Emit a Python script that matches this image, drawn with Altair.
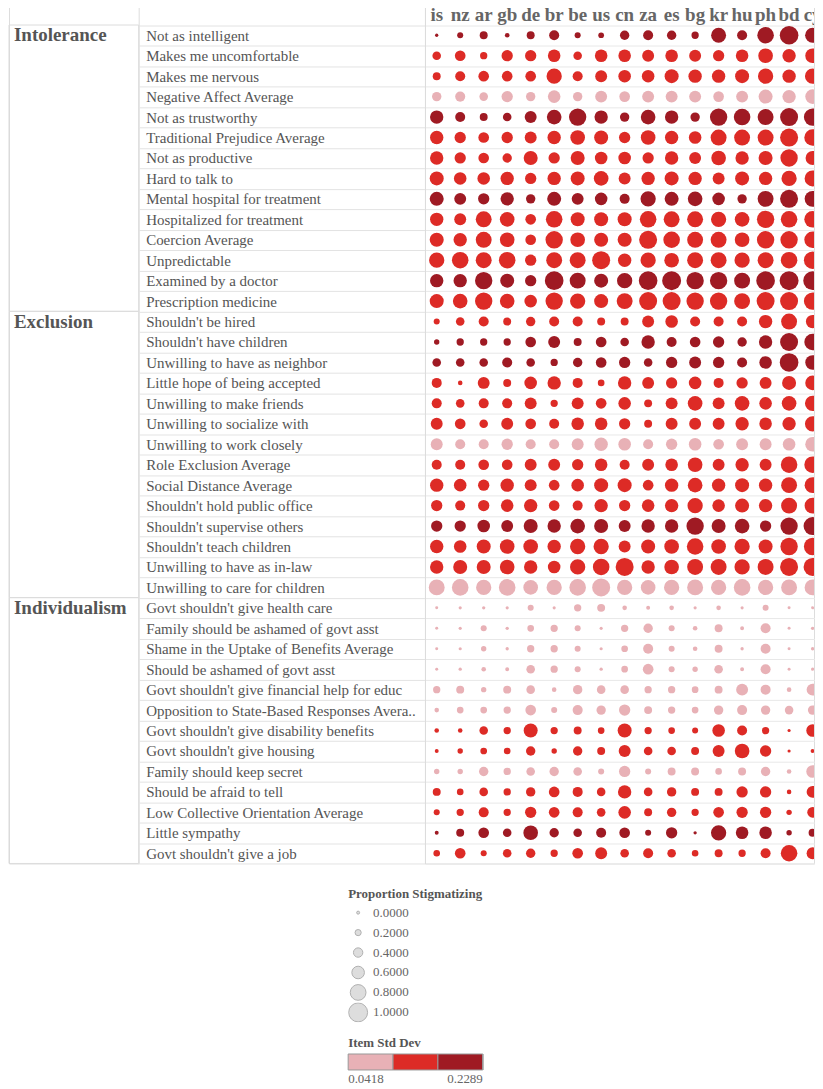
import altair as alt
import pandas as pd

SERIF = "Liberation Serif"

countries = ["is", "nz", "ar", "gb", "de", "br", "be", "us", "cn", "za",
             "es", "bg", "kr", "hu", "ph", "bd", "cy"]
categories = ["Intolerance", "Exclusion", "Individualism"]

intolerance_items = [
    "Not as intelligent", "Makes me uncomfortable", "Makes me nervous",
    "Negative Affect Average", "Not as trustworthy", "Traditional Prejudice Average",
    "Not as productive", "Hard to talk to", "Mental hospital for treatment",
    "Hospitalized for treatment", "Coercion Average", "Unpredictable",
    "Examined by a doctor", "Prescription medicine"]
intolerance_sd = [0.2289, 0.13, 0.12, 0.07, 0.19, 0.14, 0.13, 0.14, 0.20, 0.15,
                  0.14, 0.13, 0.19, 0.14]
intolerance_values = [
    [0.02, 0.19, 0.31, 0.10, 0.31, 0.44, 0.19, 0.17, 0.40, 0.44, 0.40, 0.27, 0.75, 0.44, 0.85, 0.98, 0.75],
    [0.35, 0.48, 0.27, 0.52, 0.52, 0.60, 0.35, 0.60, 0.60, 0.56, 0.60, 0.56, 0.52, 0.60, 0.73, 0.65, 0.73],
    [0.31, 0.44, 0.48, 0.48, 0.48, 0.77, 0.44, 0.56, 0.60, 0.60, 0.69, 0.65, 0.65, 0.69, 0.77, 0.65, 0.77],
    [0.40, 0.44, 0.35, 0.52, 0.40, 0.60, 0.40, 0.56, 0.48, 0.56, 0.56, 0.56, 0.48, 0.56, 0.69, 0.65, 0.73],
    [0.65, 0.44, 0.31, 0.35, 0.56, 0.73, 0.90, 0.65, 0.40, 0.73, 0.65, 0.40, 0.90, 0.85, 0.81, 0.94, 0.90],
    [0.65, 0.52, 0.48, 0.52, 0.56, 0.65, 0.73, 0.69, 0.52, 0.73, 0.65, 0.60, 0.81, 0.81, 0.81, 0.94, 0.85],
    [0.65, 0.52, 0.48, 0.40, 0.69, 0.52, 0.69, 0.60, 0.60, 0.52, 0.65, 0.56, 0.73, 0.65, 0.69, 0.90, 0.69],
    [0.69, 0.60, 0.60, 0.65, 0.52, 0.65, 0.69, 0.73, 0.56, 0.65, 0.69, 0.65, 0.56, 0.69, 0.65, 0.77, 0.81],
    [0.69, 0.56, 0.52, 0.65, 0.40, 0.69, 0.56, 0.60, 0.44, 0.77, 0.69, 0.73, 0.60, 0.40, 0.81, 0.94, 0.81],
    [0.65, 0.56, 0.81, 0.73, 0.48, 0.85, 0.69, 0.69, 0.69, 0.85, 0.81, 0.81, 0.77, 0.73, 0.90, 0.85, 0.85],
    [0.69, 0.65, 0.81, 0.73, 0.48, 0.90, 0.73, 0.69, 0.69, 0.94, 0.85, 0.81, 0.81, 0.73, 0.90, 0.90, 0.85],
    [0.77, 0.85, 0.81, 0.85, 0.52, 0.81, 0.81, 0.94, 0.65, 0.77, 0.73, 0.81, 0.81, 0.77, 0.81, 0.85, 0.90],
    [0.65, 0.65, 0.90, 0.69, 0.52, 0.98, 0.81, 0.69, 0.77, 0.98, 1.00, 0.90, 0.90, 0.81, 0.98, 1.00, 0.98],
    [0.69, 0.73, 0.90, 0.73, 0.60, 0.90, 0.77, 0.69, 0.81, 0.94, 0.94, 0.90, 0.90, 0.81, 0.94, 0.94, 0.90],
]

exclusion_items = [
    "Shouldn't be hired", "Shouldn't have children", "Unwilling to have as neighbor",
    "Little hope of being accepted", "Unwilling to make friends", "Unwilling to socialize with",
    "Unwilling to work closely", "Role Exclusion Average", "Social Distance Average",
    "Shouldn't hold public office", "Shouldn't supervise others", "Shouldn't teach children",
    "Unwilling to have as in-law", "Unwilling to care for children"]
exclusion_sd = [0.14, 0.19, 0.20, 0.15, 0.14, 0.13, 0.08, 0.13, 0.12, 0.14, 0.18,
                0.14, 0.13, 0.0418]
exclusion_values = [
    [0.19, 0.35, 0.44, 0.31, 0.40, 0.44, 0.44, 0.31, 0.31, 0.56, 0.60, 0.44, 0.44, 0.44, 0.65, 0.81, 0.65],
    [0.15, 0.27, 0.27, 0.27, 0.48, 0.56, 0.31, 0.48, 0.35, 0.65, 0.44, 0.48, 0.52, 0.40, 0.65, 0.94, 0.85],
    [0.35, 0.35, 0.35, 0.44, 0.35, 0.27, 0.40, 0.48, 0.52, 0.35, 0.52, 0.56, 0.52, 0.44, 0.60, 0.98, 0.73],
    [0.44, 0.10, 0.56, 0.31, 0.60, 0.65, 0.44, 0.23, 0.65, 0.56, 0.52, 0.60, 0.44, 0.52, 0.56, 0.69, 0.73],
    [0.44, 0.35, 0.44, 0.44, 0.56, 0.27, 0.56, 0.48, 0.60, 0.31, 0.56, 0.73, 0.56, 0.73, 0.60, 0.73, 0.77],
    [0.56, 0.48, 0.35, 0.56, 0.48, 0.44, 0.60, 0.60, 0.52, 0.31, 0.56, 0.56, 0.56, 0.65, 0.60, 0.65, 0.77],
    [0.56, 0.44, 0.44, 0.52, 0.44, 0.44, 0.56, 0.65, 0.60, 0.44, 0.52, 0.60, 0.48, 0.56, 0.56, 0.60, 0.73],
    [0.44, 0.44, 0.48, 0.48, 0.56, 0.56, 0.52, 0.60, 0.44, 0.56, 0.60, 0.73, 0.56, 0.65, 0.56, 0.85, 0.85],
    [0.65, 0.60, 0.52, 0.65, 0.56, 0.48, 0.60, 0.69, 0.69, 0.48, 0.65, 0.73, 0.65, 0.69, 0.65, 0.81, 0.81],
    [0.52, 0.44, 0.52, 0.60, 0.65, 0.48, 0.44, 0.65, 0.52, 0.60, 0.65, 0.77, 0.60, 0.69, 0.65, 0.81, 0.81],
    [0.52, 0.52, 0.60, 0.56, 0.69, 0.65, 0.73, 0.69, 0.56, 0.65, 0.65, 0.90, 0.69, 0.73, 0.52, 0.90, 0.94],
    [0.65, 0.60, 0.69, 0.73, 0.73, 0.65, 0.77, 0.77, 0.56, 0.69, 0.73, 0.85, 0.73, 0.77, 0.69, 0.90, 0.90],
    [0.65, 0.69, 0.69, 0.73, 0.65, 0.60, 0.77, 0.85, 0.94, 0.65, 0.73, 0.81, 0.81, 0.77, 0.81, 0.94, 0.94],
    [0.81, 0.85, 0.77, 0.85, 0.73, 0.77, 0.85, 0.94, 0.77, 0.73, 0.77, 0.81, 0.77, 0.85, 0.77, 0.81, 0.81],
]

individualism_items = [
    "Govt shouldn't give health care", "Family should be ashamed of govt asst",
    "Shame in the Uptake of Benefits Average", "Should be ashamed of govt asst",
    "Govt shouldn't give financial help for educ", "Opposition to State-Based Responses Avera..",
    "Govt shouldn't give disability benefits", "Govt shouldn't give housing",
    "Family should keep secret", "Should be afraid to tell",
    "Low Collective Orientation Average", "Little sympathy", "Govt shouldn't give a job"]
individualism_sd = [0.06, 0.08, 0.07, 0.08, 0.09, 0.07, 0.13, 0.12, 0.09, 0.12,
                    0.11, 0.18, 0.13]
individualism_values = [
    [0.00, 0.01, 0.02, 0.01, 0.19, 0.01, 0.27, 0.31, 0.10, 0.06, 0.10, 0.01, 0.10, 0.01, 0.19, 0.00, 0.00],
    [0.00, 0.01, 0.19, 0.02, 0.23, 0.27, 0.19, 0.01, 0.27, 0.40, 0.19, 0.10, 0.31, 0.06, 0.44, 0.00, 0.02],
    [0.00, 0.01, 0.15, 0.02, 0.27, 0.27, 0.19, 0.01, 0.23, 0.44, 0.19, 0.10, 0.31, 0.02, 0.44, 0.00, 0.02],
    [0.00, 0.02, 0.10, 0.06, 0.35, 0.27, 0.19, 0.02, 0.23, 0.48, 0.19, 0.15, 0.35, 0.06, 0.44, 0.00, 0.01],
    [0.27, 0.31, 0.15, 0.31, 0.35, 0.10, 0.40, 0.35, 0.35, 0.27, 0.27, 0.23, 0.31, 0.56, 0.44, 0.10, 0.56],
    [0.10, 0.23, 0.23, 0.27, 0.48, 0.19, 0.44, 0.40, 0.52, 0.31, 0.27, 0.23, 0.40, 0.44, 0.40, 0.35, 0.40],
    [0.10, 0.10, 0.35, 0.27, 0.69, 0.27, 0.31, 0.23, 0.69, 0.27, 0.23, 0.19, 0.60, 0.44, 0.27, 0.01, 0.60],
    [0.06, 0.15, 0.23, 0.23, 0.40, 0.15, 0.40, 0.31, 0.56, 0.35, 0.35, 0.31, 0.56, 0.73, 0.52, 0.01, 0.06],
    [0.15, 0.15, 0.40, 0.27, 0.35, 0.40, 0.35, 0.19, 0.52, 0.19, 0.31, 0.31, 0.23, 0.31, 0.40, 0.10, 0.60],
    [0.31, 0.23, 0.35, 0.27, 0.40, 0.48, 0.44, 0.35, 0.65, 0.35, 0.40, 0.31, 0.31, 0.52, 0.52, 0.10, 0.56],
    [0.19, 0.27, 0.44, 0.27, 0.52, 0.48, 0.44, 0.35, 0.60, 0.31, 0.40, 0.27, 0.48, 0.52, 0.52, 0.15, 0.48],
    [0.06, 0.31, 0.48, 0.35, 0.73, 0.40, 0.35, 0.44, 0.48, 0.19, 0.52, 0.02, 0.77, 0.60, 0.60, 0.15, 0.31],
    [0.23, 0.48, 0.19, 0.35, 0.40, 0.27, 0.48, 0.56, 0.35, 0.44, 0.35, 0.23, 0.31, 0.27, 0.44, 0.85, 0.56],
]

size_legend_ticks = [0.0, 0.2, 0.4, 0.6, 0.8, 1.0]
sd_range = [0.0418, 0.2289]
sd_colors = ["#e8b1b6", "#dd2b26", "#9f1a23"]

# ---- build tables ----
rows = []
groups = [
    ("Intolerance", intolerance_items, intolerance_sd, intolerance_values),
    ("Exclusion", exclusion_items, exclusion_sd, exclusion_values),
    ("Individualism", individualism_items, individualism_sd, individualism_values),
]
for cat, items, sds, vals in groups:
    for item, sd, v in zip(items, sds, vals):
        for c, p in zip(countries, v):
            rows.append({"category": cat, "item": item, "sd": sd, "country": c, "p": p})
df = pd.DataFrame(rows)

HEADER = " "
all_items = intolerance_items + exclusion_items + individualism_items
cat_df = pd.DataFrame({"category": categories,
                       "first_item": [g[1][0] for g in groups],
                       "last_item": [g[1][-1] for g in groups]})
header_df = pd.DataFrame({"country": countries, "row": HEADER})

size_legend_values = [(3 + 16 * v) ** 2 for v in size_legend_ticks]

# boundaries of the three equal std-dev bins (for the legend blocks)
lo, hi = sd_range
bin_edges = [lo, lo + (hi - lo) / 3 + 1e-9, lo + 2 * (hi - lo) / 3 + 1e-9, hi]

ROW = 20.5
COL = 23.55
yscale = alt.Scale(type="band", domain=[HEADER] + all_items, paddingInner=0, paddingOuter=0)
xscale = alt.Scale(type="band", domain=countries, paddingInner=0, paddingOuter=0,
                   range=[0, COL * len(countries)])
LINE = "#dcdcdc"

# ---- left column: categories ----
cat_top = alt.Chart(cat_df).mark_rule(color=LINE).encode(
    y=alt.Y("first_item:N", scale=yscale, axis=None, bandPosition=0)
)
cat_bottom = alt.Chart(cat_df).mark_rule(color=LINE).encode(
    y=alt.Y("last_item:N", scale=yscale, axis=None, bandPosition=1)
)
cat_vl = alt.Chart(cat_df).mark_rule(color=LINE).encode(
    y=alt.Y("first_item:N", scale=yscale, axis=None, bandPosition=0),
    y2=alt.Y2("last_item:N", bandPosition=1),
    x=alt.value(0),
)
cat_vr = alt.Chart(cat_df).mark_rule(color=LINE).encode(
    y=alt.Y("first_item:N", scale=yscale, axis=None, bandPosition=0),
    y2=alt.Y2("last_item:N", bandPosition=1),
    x=alt.value("width"),
)
cat_text = alt.Chart(cat_df).mark_text(
    align="left", baseline="middle", font=SERIF, fontWeight="bold",
    fontSize=19, color="#555555"
).encode(
    y=alt.Y("first_item:N", scale=yscale, axis=None),
    x=alt.value(5),
    text="category:N",
)
left = alt.layer(cat_top, cat_bottom, cat_vl, cat_vr, cat_text).properties(
    width=130, height=alt.Step(ROW)
)

# ---- main grid ----
circles = alt.Chart(df).transform_calculate(
    size_px="pow(3 + 16 * datum.p, 2)"
).mark_circle(opacity=1, clip=True).encode(
    x=alt.X("country:N", scale=xscale,
            axis=alt.Axis(values=countries[1:-1], tickBand="extent", grid=True,
                          gridColor="#f0f0f0", labels=False, ticks=False,
                          domain=False, title=None)),
    y=alt.Y("item:N", scale=yscale,
            axis=alt.Axis(title=None, labelAlign="left", labelBaseline="middle",
                          labelFont=SERIF, labelFontSize=15, labelColor="#555555",
                          labelLimit=400, ticks=True, tickSize=287, tickColor="#e3e3e3",
                          tickBand="extent", labelPadding=-7, grid=True,
                          gridColor="#e8e8e8", domain=True, domainColor=LINE)),
    size=alt.Size("size_px:Q",
                  scale=alt.Scale(type="linear", domain=[0, 400], range=[0, 400]),
                  legend=alt.Legend(
                      title="Proportion Stigmatizing", orient="none",
                      legendX=340, legendY=886, values=size_legend_values,
                      labelExpr="format((sqrt(datum.value) - 3) / 16, '.4f')",
                      symbolType="circle", symbolFillColor="#dddddd",
                      symbolStrokeColor="#b0b0b0", symbolStrokeWidth=1, symbolOpacity=1,
                      titleFont=SERIF, titleFontSize=13, titleFontWeight="bold",
                      titleColor="#555555", labelFont=SERIF, labelFontSize=13,
                      labelColor="#666666", rowPadding=0, gridAlign="all",
                      clipHeight=19.6, labelOffset=5, titlePadding=1.5, padding=0)),
    color=alt.Color("sd:Q",
                    scale=alt.Scale(type="quantize", domain=sd_range, range=sd_colors),
                    legend=alt.Legend(
                        title="Item Std Dev", orient="none", legendX=340, legendY=1035,
                        type="gradient", direction="horizontal", gradientLength=135,
                        gradientThickness=16, gradientStrokeColor="#999999",
                        gradientStrokeWidth=1, values=bin_edges,
                        labelExpr="(datum.value < 0.05 || datum.value > 0.22) ? format(datum.value, '.4f') : ''",
                        titleFont=SERIF, titleFontSize=13, titleFontWeight="bold",
                        titleColor="#555555", labelFont=SERIF, labelFontSize=13,
                        labelColor="#666666", labelOffset=3, titlePadding=4, padding=0)),
)
header = alt.Chart(header_df).mark_text(
    font=SERIF, fontWeight="bold", fontSize=19, color="#666666",
    baseline="alphabetic", dy=6.5, clip=True
).encode(
    x=alt.X("country:N", scale=xscale, axis=None),
    y=alt.Y("row:N", scale=yscale),
    text="country:N",
)
main = alt.layer(circles, header).properties(width=390, height=alt.Step(ROW))

chart = alt.hconcat(left, main, spacing=287, bounds="flush").properties(
    padding={"left": 0, "top": -12.75, "right": 0, "bottom": 0}
).configure_view(stroke="transparent").configure(background="white")

chart.save("out.html", embed_options={"renderer": "svg", "actions": False})
